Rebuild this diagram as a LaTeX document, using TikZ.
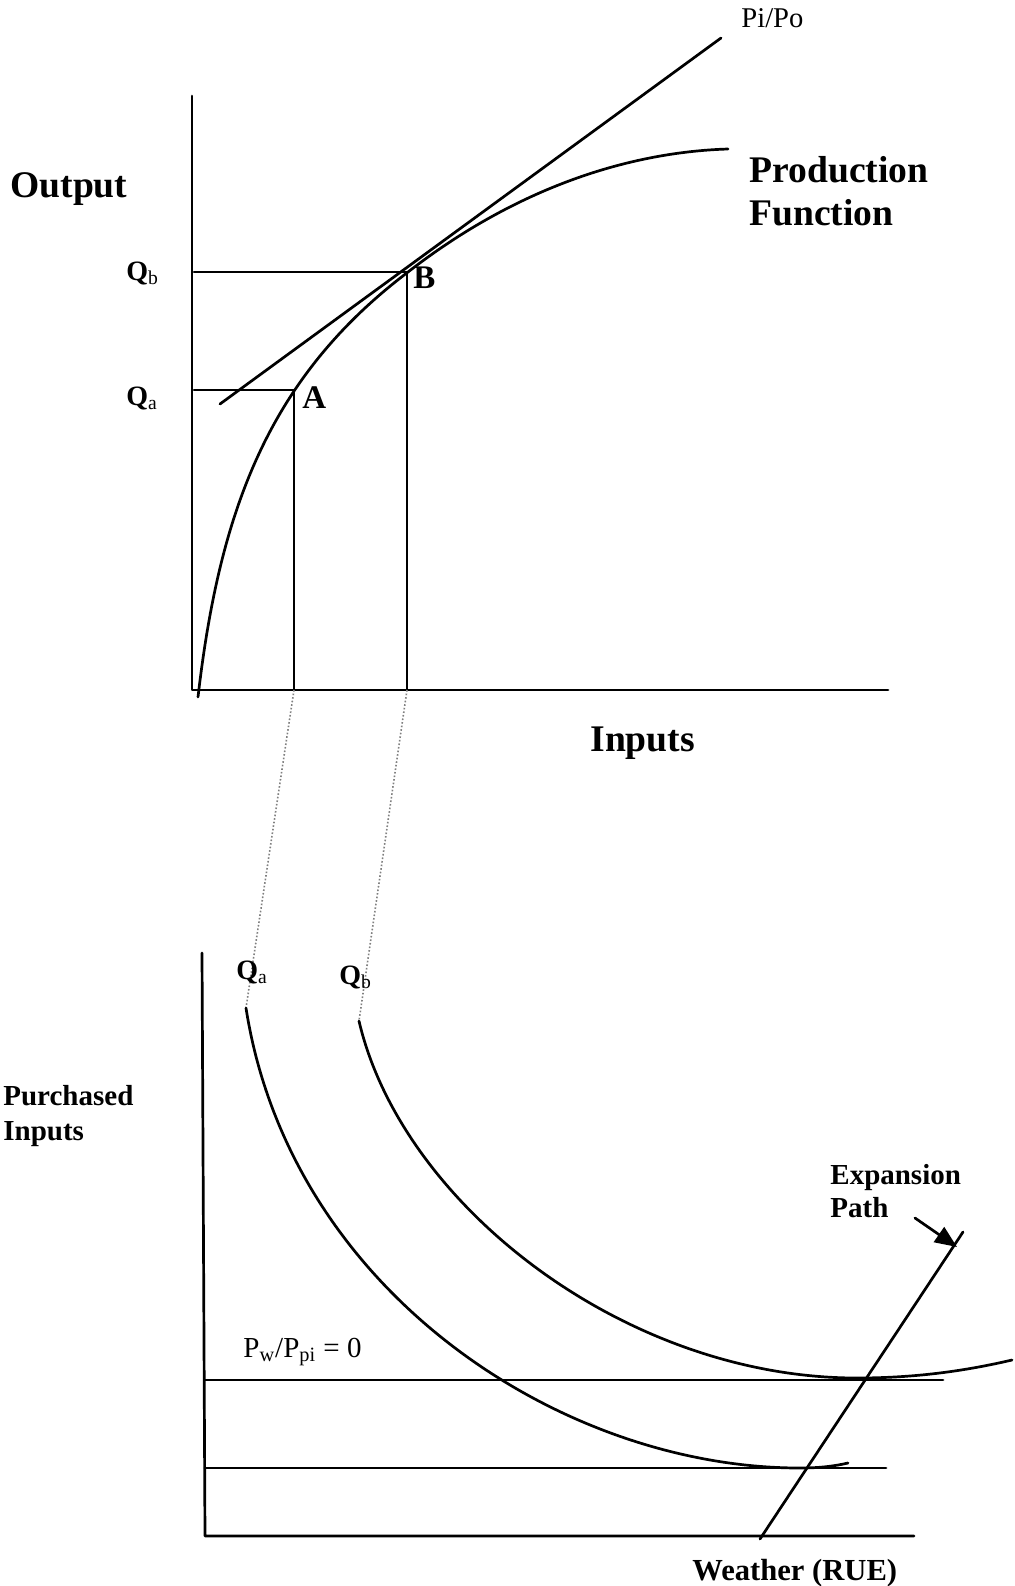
\documentclass[tikz,border=0pt]{standalone}
\usepackage{fontspec}
\setmainfont{Liberation Serif}
\usetikzlibrary{arrows.meta}
\begin{document}
\begin{tikzpicture}[x=0.5pt,y=-0.5pt,
  ln/.style={line width=1.35pt, line cap=round, line join=round},
  dots/.style={densely dotted, gray, line width=0.8pt},
  biglbl/.style={font=\fontsize{18.8}{22}\selectfont\bfseries, inner sep=0pt, anchor=base west},
  midlbl/.style={font=\fontsize{14.5}{17}\selectfont\bfseries, inner sep=0pt, anchor=base west},
  qlbl/.style={font=\fontsize{14}{17}\selectfont\bfseries, inner sep=0pt, anchor=base west},
  ptlbl/.style={font=\fontsize{16.5}{20}\selectfont\bfseries, inner sep=0pt, anchor=base west},
  rglbl/.style={font=\fontsize{14.3}{17}\selectfont, inner sep=0pt, anchor=base west}
]
\useasboundingbox (0,0) rectangle (1014,1586);

% ---------- top panel ----------
\coordinate (yTop) at (192,96);
\coordinate (O1) at (192,690);
\coordinate (xEnd) at (888,690);
\draw[ln] (yTop) -- (O1) -- (xEnd);

\coordinate (A) at (294,390);
\coordinate (B) at (407,272);
\coordinate (Ab) at (294,690);
\coordinate (Bb) at (407,690);
\coordinate (QaY) at (194,390);
\coordinate (QbY) at (194,272);
\coordinate (PFend) at (728,149);

% production function: logarithmic up to B, then a Bezier to its end
\draw[ln] plot[domain=0:209, samples=120] ({198+\x},{697-174*ln(1+\x/20)})
  .. controls (517,187) and (630,152) .. (PFend);

\coordinate (tS) at (220,404);
\coordinate (tE) at (721,38);
\draw[ln] (tS) -- (tE);

\draw[ln] (QaY) -- (A) -- (Ab);
\draw[ln] (QbY) -- (B) -- (Bb);

\node[rglbl] (pipo) at (741,27) {Pi/Po};
\node[biglbl] (output) at (10,197) {Output};
\node[biglbl] (prod) at (749,182) {Production};
\node[biglbl] (func) at (749,225) {Function};
\node[biglbl] (inputs) at (590,751) {Inputs};
\node[qlbl] (qbT) at (126,280) {Q{\mdseries\textsubscript{b}}};
\node[qlbl] (qaT) at (126,405) {Q{\mdseries\textsubscript{a}}};
\node[ptlbl] (lA) at (302,408) {A};
\node[ptlbl] (lB) at (413,288) {B};

% ---------- dotted links ----------
\coordinate (QaS) at (246,1008);
\coordinate (QbS) at (359,1021);
\draw[dots] (Ab) -- (QaS);
\draw[dots] (Bb) -- (QbS);

% ---------- bottom panel ----------
\coordinate (yTop2) at (202,953);
\coordinate (O2) at (205,1536);
\coordinate (xEnd2) at (914,1536);
\draw[ln] (yTop2) -- (O2) -- (xEnd2);

\coordinate (h1S) at (205,1380);
\coordinate (h1E) at (943,1380);
\coordinate (h2S) at (205,1468);
\coordinate (h2E) at (886,1468);
\draw[ln] (h1S) -- (h1E);
\draw[ln] (h2S) -- (h2E);

\coordinate (QaMin) at (800,1468);
\coordinate (QaEnd) at (848,1463);
\draw[ln] (QaS) .. controls (290,1290) and (560,1468) .. (QaMin)
  .. controls (820,1468) and (835,1466) .. (QaEnd);

\coordinate (QbMin) at (857,1378);
\coordinate (QbEnd) at (1012,1360);
\draw[ln] (QbS) .. controls (402,1205) and (625,1378) .. (QbMin)
  .. controls (915,1378) and (965,1371) .. (QbEnd);

\coordinate (eS) at (760,1539);
\coordinate (eE) at (963,1232);
\draw[ln] (eS) -- (eE);

\coordinate (arS) at (915,1218);
\coordinate (arE) at (957,1247);
\draw[ln, -{Triangle[length=11pt,width=9pt]}] (arS) -- (arE);

\node[qlbl] (qaB) at (236,979) {Q{\mdseries\textsubscript{a}}};
\node[qlbl] (qbB) at (339,984) {Q{\mdseries\textsubscript{b}}};
\node[midlbl] (purch) at (3,1105) {Purchased};
\node[midlbl] (pinp) at (3,1140) {Inputs};
\node[midlbl] (expa) at (830,1184) {Expansion};
\node[midlbl] (path) at (830,1217) {Path};
\node[rglbl, font=\fontsize{14.5}{17}\selectfont] (pw) at (243,1357) {P\textsubscript{w}/P\textsubscript{pi} = 0};
\node[midlbl, font=\fontsize{15.3}{18}\selectfont\bfseries] (weather) at (692,1580) {Weather (RUE)};
\end{tikzpicture}
\end{document}
